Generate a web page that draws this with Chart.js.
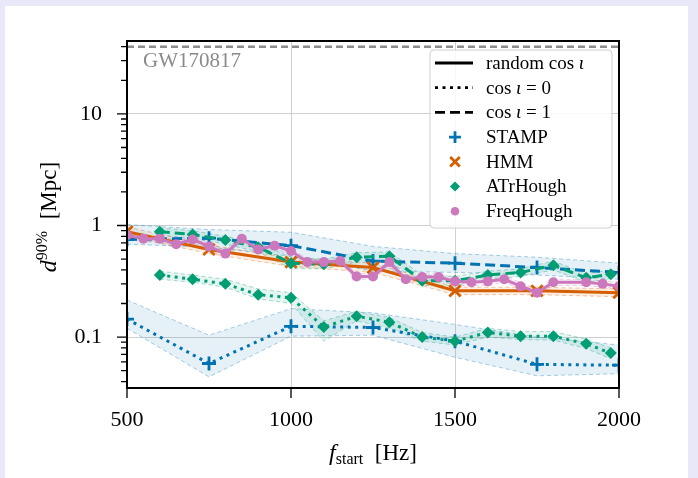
<!DOCTYPE html>
<html>
<head>
<meta charset="utf-8">
<script src="https://cdn.jsdelivr.net/npm/chart.js@4"></script>
<style>
  html, body { margin: 0; padding: 0; background: #e8e8f9; }
  #card { position: absolute; left: 5px; top: 6px; width: 683px; height: 472px; background: #fff; }
  #c { position: absolute; left: 0; top: 0; }
</style>
</head>
<body>
<div id="card"></div>
<canvas id="c" width="698" height="478"></canvas>
<script>
// ---- data ----
const stampFreq   = [500, 750, 1000, 1250, 1500, 1750, 2000];
const stampFace   = [0.75, 0.77, 0.66, 0.48, 0.46, 0.42, 0.38];      // cos i = 1
const stampFaceLo = [0.68, 0.64, 0.53, 0.39, 0.38, 0.36, 0.33];
const stampFaceHi = [1.02, 0.92, 0.87, 0.65, 0.56, 0.52, 0.46];
const stampEdge   = [0.145, 0.058, 0.125, 0.122, 0.092, 0.057, 0.056]; // cos i = 0
const stampEdgeLo = [0.12, 0.044, 0.102, 0.104, 0.066, 0.045, 0.047];
const stampEdgeHi = [0.215, 0.104, 0.18, 0.165, 0.13, 0.1, 0.085];

const hmmFreq   = [500, 750, 1000, 1250, 1500, 1750, 2000];
const hmmRand   = [0.88, 0.61, 0.47, 0.42, 0.26, 0.26, 0.25];
const hmmRandLo = [0.80, 0.56, 0.43, 0.38, 0.24, 0.24, 0.23];
const hmmRandHi = [0.97, 0.67, 0.51, 0.46, 0.28, 0.28, 0.27];

const atrFreq   = [600, 700, 800, 900, 1000, 1100, 1200, 1300, 1400, 1500, 1600, 1700, 1800, 1900, 1975];
const atrFace   = [0.88, 0.83, 0.74, 0.64, 0.46, 0.45, 0.52, 0.53, 0.32, 0.32, 0.36, 0.38, 0.44, 0.34, 0.365];
const atrFaceLo = [0.82, 0.77, 0.68, 0.58, 0.41, 0.41, 0.47, 0.48, 0.29, 0.29, 0.33, 0.35, 0.40, 0.31, 0.33];
const atrFaceHi = [0.95, 0.90, 0.80, 0.70, 0.52, 0.50, 0.57, 0.58, 0.36, 0.35, 0.39, 0.41, 0.48, 0.37, 0.40];
const atrEdge   = [0.36, 0.33, 0.30, 0.24, 0.225, 0.123, 0.154, 0.136, 0.10, 0.092, 0.11, 0.102, 0.102, 0.087, 0.072];
const atrEdgeLo = [0.33, 0.31, 0.28, 0.22, 0.20, 0.092, 0.14, 0.12, 0.092, 0.085, 0.10, 0.095, 0.094, 0.079, 0.064];
const atrEdgeHi = [0.39, 0.36, 0.33, 0.27, 0.25, 0.14, 0.17, 0.15, 0.11, 0.10, 0.12, 0.112, 0.112, 0.096, 0.08];

const fhFreq   = [500, 550, 600, 650, 700, 750, 800, 850, 900, 950, 1000, 1050, 1100, 1150, 1200, 1250, 1300, 1350, 1400, 1450, 1500, 1550, 1600, 1650, 1700, 1750, 1800, 1900, 1950, 2000];
const fhRand   = [0.82, 0.76, 0.76, 0.68, 0.75, 0.65, 0.56, 0.76, 0.61, 0.66, 0.59, 0.47, 0.47, 0.48, 0.35, 0.35, 0.47, 0.33, 0.345, 0.345, 0.316, 0.31, 0.316, 0.33, 0.286, 0.25, 0.31, 0.31, 0.30, 0.286];
const fhRandLo = [0.76, 0.71, 0.71, 0.63, 0.70, 0.60, 0.52, 0.71, 0.57, 0.61, 0.55, 0.44, 0.44, 0.45, 0.33, 0.33, 0.44, 0.31, 0.32, 0.32, 0.29, 0.29, 0.29, 0.31, 0.27, 0.23, 0.29, 0.29, 0.28, 0.27];
const fhRandHi = [0.88, 0.81, 0.81, 0.73, 0.80, 0.70, 0.60, 0.81, 0.65, 0.71, 0.63, 0.50, 0.50, 0.51, 0.37, 0.37, 0.50, 0.35, 0.37, 0.37, 0.34, 0.33, 0.34, 0.35, 0.31, 0.27, 0.33, 0.33, 0.32, 0.31];

const gwFreq = [500, 2000];
const gwDist = [40, 40];
const gwLabel = 'GW170817';

const xTicks = [500, 1000, 1500, 2000];
const xTickLabels = ['500', '1000', '1500', '2000'];
const yMajor = [0.1, 1, 10];
const yMajorLabels = ['0.1', '1', '10'];
const yTicks = [0.04, 0.05, 0.06, 0.07, 0.08, 0.09, 0.1, 0.2, 0.3, 0.4, 0.5, 0.6, 0.7, 0.8, 0.9,
                1, 2, 3, 4, 5, 6, 7, 8, 9, 10, 20, 30, 40];

const legendStyles = ['random cos ι', 'cos ι = 0', 'cos ι = 1'];
const legendMethods = ['STAMP', 'HMM', 'ATrHough', 'FreqHough'];

// ---- styling ----
const C = { stamp: '#0173b2', hmm: '#d55e00', atr: '#029e73', fh: '#cc78bc' };
const RGB = { stamp: '1,115,178', hmm: '213,94,0', atr: '2,158,115', fh: '204,120,188' };
const MARK = {
  stamp: { pointStyle: 'cross', r: 7, bw: 2.8 },
  hmm:   { pointStyle: 'crossRot', r: 8, bw: 2.8 },
  atr:   { pointStyle: 'rectRot', r: 6, bw: 0 },
  fh:    { pointStyle: 'circle', r: 5, bw: 0 }
};
const DOT = [3, 4.5], DASH = [10, 5];
const SERIF = '"Liberation Serif", "DejaVu Serif", serif';

const pts = (xs, ys) => xs.map((x, i) => ({ x, y: ys[i] }));

function band(key, xs, lo, hi) {
  const edge = {
    type: 'line', pointRadius: 0, borderWidth: 1, borderDash: [4, 3],
    borderColor: `rgba(${RGB[key]},0.35)`, backgroundColor: `rgba(${RGB[key]},0.1)`, order: 10
  };
  return [
    { ...edge, data: pts(xs, lo), fill: false },
    { ...edge, data: pts(xs, hi), fill: '-1' }
  ];
}

function series(key, xs, ys, dash, order) {
  const m = MARK[key];
  return {
    type: 'line', data: pts(xs, ys), order,
    borderColor: C[key], borderWidth: 3, borderDash: dash, borderCapStyle: 'butt',
    pointStyle: m.pointStyle, pointRadius: m.r, pointBorderWidth: m.bw,
    pointBorderColor: C[key], pointBackgroundColor: C[key], fill: false
  };
}

const datasets = [
  ...band('stamp', stampFreq, stampFaceLo, stampFaceHi),
  ...band('stamp', stampFreq, stampEdgeLo, stampEdgeHi),
  ...band('hmm', hmmFreq, hmmRandLo, hmmRandHi),
  ...band('atr', atrFreq, atrFaceLo, atrFaceHi),
  ...band('atr', atrFreq, atrEdgeLo, atrEdgeHi),
  ...band('fh', fhFreq, fhRandLo, fhRandHi),
  series('stamp', stampFreq, stampFace, DASH, 4),
  series('stamp', stampFreq, stampEdge, DOT, 4),
  series('hmm', hmmFreq, hmmRand, [], 3),
  series('atr', atrFreq, atrFace, DASH, 2),
  series('atr', atrFreq, atrEdge, DOT, 2),
  series('fh', fhFreq, fhRand, [], 1),
  { type: 'line', data: pts(gwFreq, gwDist), borderColor: '#8c8c8c', borderWidth: 2.5,
    borderDash: [7, 4], pointRadius: 0, fill: false, order: 20 }
];

// draw text made of runs with different fonts / offsets
function drawRuns(ctx, runs, x, y, align) {
  let w = 0;
  runs.forEach(r => { ctx.font = r.font; r.w = ctx.measureText(r.t).width; w += r.w; });
  let cx = align === 'center' ? x - w / 2 : x;
  runs.forEach(r => { ctx.font = r.font; ctx.fillText(r.t, cx, y + (r.dy || 0)); cx += r.w; });
}

const F = (size, style) => `${style || ''} ${size}px ${SERIF}`;

function styleRuns(i) {
  const n = F(19), it = F(19, 'italic');
  if (i === 0) return [{ t: 'random cos ', font: n }, { t: 'ι', font: it }];
  return [{ t: 'cos ', font: n }, { t: 'ι', font: it }, { t: i === 1 ? ' = 0' : ' = 1', font: n }];
}

const decor = {
  id: 'decor',
  afterDraw(chart) {
    const { ctx, chartArea: a, scales: { x, y } } = chart;
    ctx.save();

    // tick marks
    ctx.strokeStyle = '#000';
    ctx.lineWidth = 1.3;
    ctx.beginPath();
    x.ticks.forEach(t => {
      const px = x.getPixelForValue(t.value);
      ctx.moveTo(px, a.bottom); ctx.lineTo(px, a.bottom + 10);
    });
    y.ticks.forEach(t => {
      const py = y.getPixelForValue(t.value);
      const len = yMajor.includes(t.value) ? 10 : 6;
      ctx.moveTo(a.left, py); ctx.lineTo(a.left - len, py);
    });
    ctx.stroke();

    // frame
    ctx.lineWidth = 2;
    ctx.strokeRect(a.left, a.top, a.right - a.left, a.bottom - a.top);

    // event label
    ctx.fillStyle = '#8a8a8a';
    ctx.textBaseline = 'alphabetic';
    ctx.font = F(21);
    ctx.fillText(gwLabel, a.left + 16, a.top + 26);

    // x tick labels
    ctx.fillStyle = '#000';
    ctx.font = F(22);
    ctx.textAlign = 'center';
    xTicks.forEach((v, i) => ctx.fillText(xTickLabels[i], x.getPixelForValue(v), 426));
    ctx.textAlign = 'left';

    // axis titles
    drawRuns(ctx, [
      { t: 'f', font: F(24, 'italic') },
      { t: 'start', font: F(16), dy: 4 },
      { t: '  [Hz]', font: F(23) }
    ], (a.left + a.right) / 2, 460, 'center');

    ctx.save();
    ctx.translate(56, 217);
    ctx.rotate(-Math.PI / 2);
    drawRuns(ctx, [
      { t: 'd', font: F(24, 'italic') },
      { t: '90%', font: F(16), dy: -9 },
      { t: '  [Mpc]', font: F(23) }
    ], 0, 0, 'center');
    ctx.restore();

    // legend
    const L = { left: 430, top: 50, w: 182, h: 178 };
    ctx.beginPath();
    ctx.roundRect(L.left, L.top, L.w, L.h, 4);
    ctx.fillStyle = 'rgba(255,255,255,0.85)';
    ctx.fill();
    ctx.strokeStyle = '#cfcfcf';
    ctx.lineWidth = 1;
    ctx.stroke();

    const rowY = i => 63 + i * 24.7;
    ctx.textBaseline = 'middle';
    ctx.lineCap = 'butt';
    const dashes = [[], DOT, DASH];
    legendStyles.forEach((s, i) => {
      ctx.strokeStyle = '#000';
      ctx.lineWidth = 2.8;
      ctx.setLineDash(dashes[i]);
      ctx.beginPath();
      ctx.moveTo(435, rowY(i)); ctx.lineTo(473, rowY(i));
      ctx.stroke();
      ctx.setLineDash([]);
      ctx.fillStyle = '#000';
      drawRuns(ctx, styleRuns(i), 486, rowY(i) + 1);
    });
    const keys = ['stamp', 'hmm', 'atr', 'fh'];
    legendMethods.forEach((name, j) => {
      const i = j + 3, m = MARK[keys[j]];
      ctx.strokeStyle = C[keys[j]];
      ctx.fillStyle = C[keys[j]];
      ctx.lineWidth = m.bw || 1;
      Chart.helpers.drawPoint(ctx, { pointStyle: m.pointStyle, radius: m.r * 0.85, rotation: 0, borderWidth: m.bw }, 455, rowY(i));
      ctx.fillStyle = '#000';
      ctx.font = F(19);
      ctx.fillText(name, 486, rowY(i) + 1);
    });

    ctx.restore();
  }
};

Chart.defaults.font.family = SERIF;
Chart.defaults.color = '#000';

new Chart(document.getElementById('c'), {
  type: 'line',
  data: { datasets },
  plugins: [decor],
  options: {
    responsive: false,
    devicePixelRatio: 1,
    animation: false,
    events: [],
    layout: { padding: { top: 41, right: 79, left: 0, bottom: 0 } },
    datasets: { line: { clip: 0 } },
    plugins: { legend: { display: false }, tooltip: { enabled: false } },
    scales: {
      x: {
        type: 'linear', min: 500, max: 2000,
        afterBuildTicks: s => { s.ticks = xTicks.map(v => ({ value: v })); },
        afterFit: s => { s.height = 90; },
        ticks: { display: false },
        grid: { color: '#d0d0d0', lineWidth: 1, drawTicks: false },
        border: { display: false }
      },
      y: {
        type: 'logarithmic', min: 0.035, max: 45,
        afterBuildTicks: s => { s.ticks = yTicks.map(v => ({ value: v })); },
        afterFit: s => { s.width = 127; },
        ticks: {
          font: { size: 22 }, padding: 25, autoSkip: false,
          callback: v => { const i = yMajor.indexOf(v); return i >= 0 ? yMajorLabels[i] : ''; }
        },
        grid: {
          drawTicks: false, lineWidth: 1,
          color: c => yMajor.includes(c.tick.value) ? '#d0d0d0' : 'rgba(0,0,0,0)'
        },
        border: { display: false }
      }
    }
  }
});
</script>
</body>
</html>
